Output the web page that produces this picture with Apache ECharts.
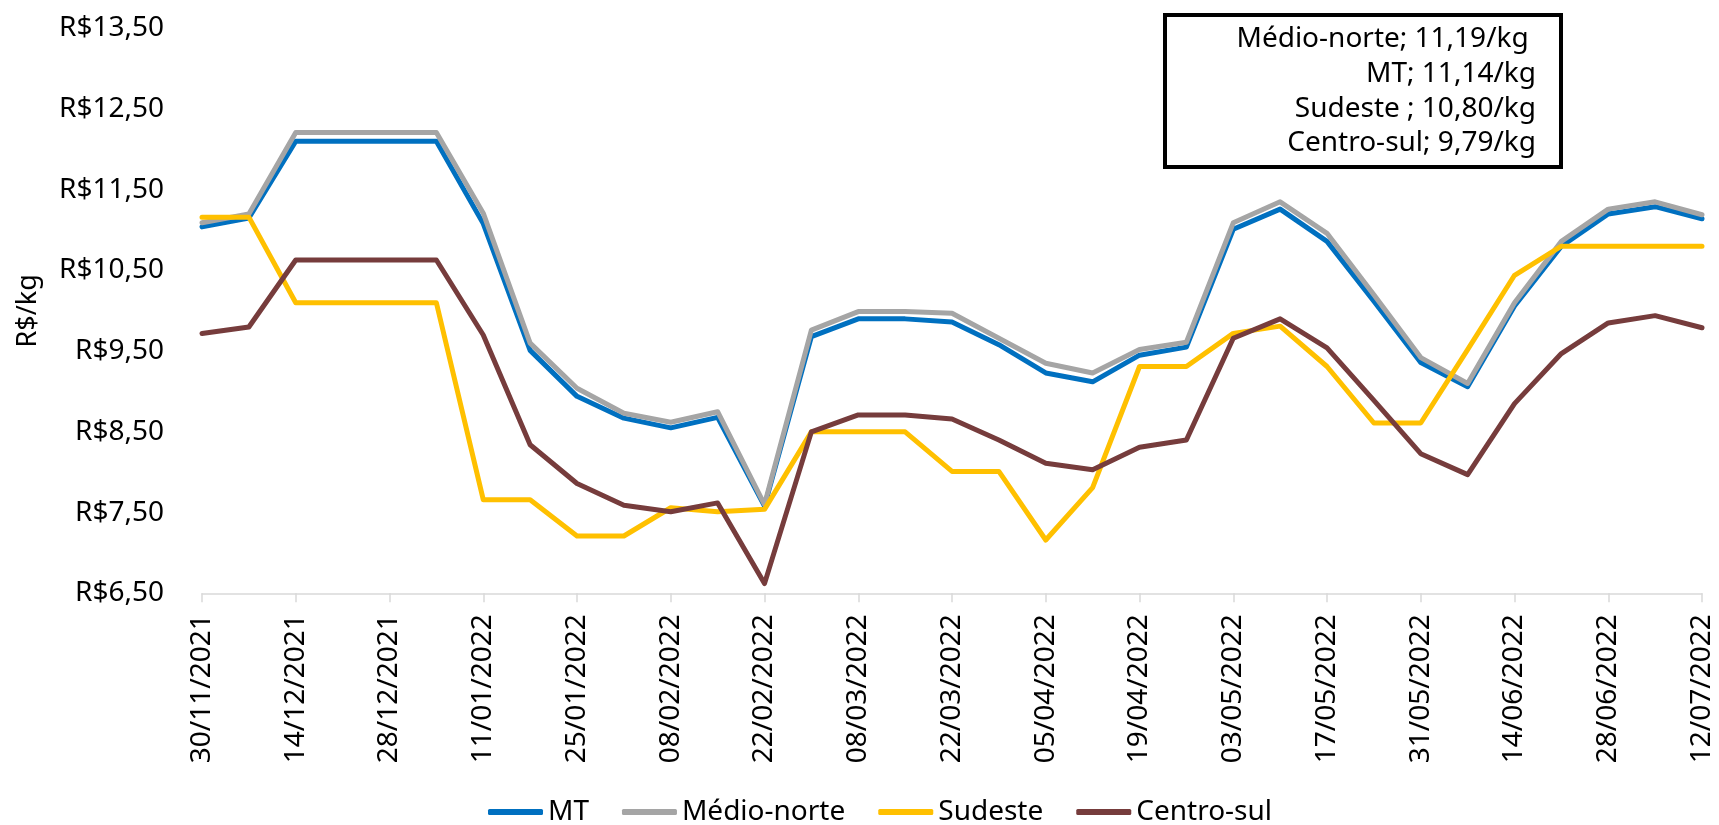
<!DOCTYPE html>
<html>
<head>
<meta charset="utf-8">
<title>Preço R$/kg</title>
<script src="https://cdn.jsdelivr.net/npm/echarts@6/dist/echarts.min.js"></script>
<style>
  html, body { margin: 0; padding: 0; background: #fff; }
  #chart { width: 1719px; height: 825px; }
</style>
</head>
<body>
<div id="chart"></div>
<script>
// datas semanais
var dates = [
  "30/11/2021", "07/12/2021", "14/12/2021", "21/12/2021", "28/12/2021", "04/01/2022",
  "11/01/2022", "18/01/2022", "25/01/2022", "01/02/2022", "08/02/2022", "15/02/2022",
  "22/02/2022", "01/03/2022", "08/03/2022", "15/03/2022", "22/03/2022", "29/03/2022",
  "05/04/2022", "12/04/2022", "19/04/2022", "26/04/2022", "03/05/2022", "10/05/2022",
  "17/05/2022", "24/05/2022", "31/05/2022", "07/06/2022", "14/06/2022", "21/06/2022",
  "28/06/2022", "05/07/2022", "12/07/2022"
];

var mt = [11.04, 11.15, 12.10, 12.10, 12.10, 12.10, 11.08, 9.51, 8.94, 8.67, 8.55, 8.68,
  7.58, 9.68, 9.90, 9.90, 9.86, 9.58, 9.23, 9.12, 9.45, 9.55, 11.01, 11.26,
  10.86, 10.12, 9.36, 9.06, 10.06, 10.80, 11.20, 11.29, 11.14];

var medioNorte = [11.09, 11.20, 12.21, 12.21, 12.21, 12.21, 11.21, 9.60, 9.04, 8.73, 8.62, 8.75,
  7.60, 9.76, 9.99, 9.99, 9.97, 9.66, 9.35, 9.23, 9.52, 9.61, 11.09, 11.35,
  10.96, 10.20, 9.42, 9.10, 10.10, 10.86, 11.26, 11.35, 11.19];

var sudeste = [11.16, 11.16, 10.10, 10.10, 10.10, 10.10, 7.66, 7.66, 7.21, 7.21, 7.56, 7.51,
  7.54, 8.50, 8.50, 8.50, 8.01, 8.01, 7.16, 7.81, 9.31, 9.31, 9.72, 9.81,
  9.31, 8.61, 8.61, 9.52, 10.44, 10.80, 10.80, 10.80, 10.80];

var centroSul = [9.72, 9.80, 10.63, 10.63, 10.63, 10.63, 9.70, 8.34, 7.86, 7.59, 7.51, 7.62,
  6.62, 8.50, 8.71, 8.71, 8.66, 8.40, 8.11, 8.03, 8.31, 8.40, 9.66, 9.90,
  9.54, 8.89, 8.23, 7.97, 8.85, 9.47, 9.85, 9.94, 9.79];

var yMin = 6.5, yMax = 13.5;

function brl(v) {
  return v.toFixed(2).replace(".", ",");
}

// caixa com o último valor de cada região
var boxLines = [
  "Médio-norte; " + brl(medioNorte[medioNorte.length - 1]) + "/kg ",
  "MT; " + brl(mt[mt.length - 1]) + "/kg",
  "Sudeste ; " + brl(sudeste[sudeste.length - 1]) + "/kg",
  "Centro-sul; " + brl(centroSul[centroSul.length - 1]) + "/kg"
];

var font = "Noto Sans";
var myChart = echarts.init(document.getElementById("chart"));

function serie(name, data, color) {
  return {
    name: name,
    type: "line",
    data: data,
    symbol: "none",
    lineStyle: { color: color, width: 5, cap: "round", join: "round" },
    itemStyle: { color: color },
    animation: false
  };
}

var option = {
  backgroundColor: "#fff",
  textStyle: { fontFamily: font },
  grid: {
    left: 202,
    right: 17,
    top: 28.3,
    bottom: 231.7
  },
  legend: {
    left: 488,
    top: 798,
    padding: 0,
    itemGap: 33,
    itemWidth: 55,
    itemHeight: 6,
    icon: "roundRect",
    data: ["MT", "Médio-norte", "Sudeste", "Centro-sul"],
    textStyle: { fontFamily: font, fontSize: 28, color: "#000", lineHeight: 28 }
  },
  xAxis: {
    type: "category",
    data: dates,
    boundaryGap: false,
    axisLine: { show: true, lineStyle: { color: "#D9D9D9", width: 1.5 } },
    axisTick: { show: true, interval: 1, length: 9, lineStyle: { color: "#D9D9D9", width: 1.5 } },
    axisLabel: {
      interval: 1,
      rotate: 90,
      margin: 21,
      color: "#000",
      fontFamily: font,
      fontSize: 28
    },
    splitLine: { show: false }
  },
  yAxis: {
    type: "value",
    min: yMin,
    max: yMax,
    interval: 0.5,
    name: "R$/kg",
    nameLocation: "middle",
    nameGap: 160,
    nameTextStyle: { color: "#000", fontFamily: font, fontSize: 27 },
    axisLine: { show: false },
    axisTick: { show: false },
    splitLine: { show: false },
    axisLabel: {
      margin: 38,
      color: "#000",
      fontFamily: font,
      fontSize: 28,
      formatter: function (v) {
        var frac = Math.abs(v - Math.floor(v) - 0.5);
        return frac < 1e-6 ? "R$" + brl(v) : "";
      }
    }
  },
  graphic: [
    {
      type: "rect",
      left: 1163,
      top: 13,
      shape: { width: 396, height: 152 },
      style: { fill: "#fff", stroke: "#000", lineWidth: 4 },
      z: 100
    },
    {
      type: "text",
      x: 1536,
      y: 22,
      style: {
        text: boxLines.join("\n"),
        align: "right",
        verticalAlign: "top",
        lineHeight: 34.7,
        fontFamily: font,
        fontSize: 28,
        fill: "#000"
      },
      z: 101
    }
  ],
  series: [
    serie("MT", mt, "#0070C0"),
    serie("Médio-norte", medioNorte, "#A5A5A5"),
    serie("Sudeste", sudeste, "#FFC000"),
    serie("Centro-sul", centroSul, "#763C3C")
  ]
};

myChart.setOption(option);
</script>
</body>
</html>
